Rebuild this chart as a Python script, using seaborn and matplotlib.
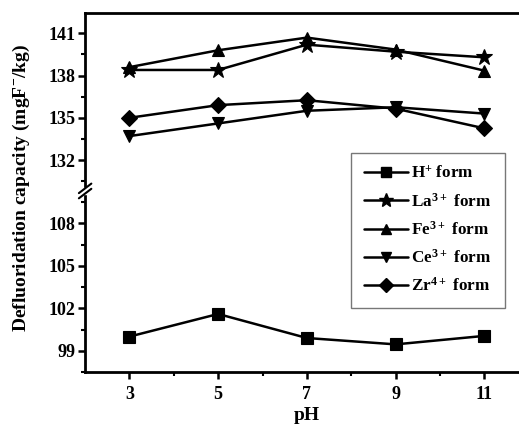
# Defluoridation capacity vs pH for the different resin forms (broken y axis)

import numpy as np
import pandas as pd
import seaborn as sns
import matplotlib.pyplot as plt
from matplotlib.lines import Line2D

ph = [3, 5, 7, 9, 11]
h_form = [100.0, 101.6, 99.9, 99.45, 100.05]
la_form = [138.4, 138.4, 140.2, 139.7, 139.3]
fe_form = [138.6, 139.8, 140.7, 139.85, 138.35]
ce_form = [133.7, 134.6, 135.5, 135.75, 135.3]
zr_form = [135.0, 135.9, 136.25, 135.65, 134.25]

series_names = ['H$^{+}$ form', 'La$^{3+}$ form', 'Fe$^{3+}$ form', 'Ce$^{3+}$ form', 'Zr$^{4+}$ form']
series_values = [h_form, la_form, fe_form, ce_form, zr_form]
series_markers = ['s', '*', '^', 'v', 'D']
marker_sizes = [8, 12, 9, 9, 8]

sns.set_style('ticks')
plt.rcParams['font.family'] = ['Liberation Serif', 'DejaVu Serif']
plt.rcParams['font.weight'] = 'bold'
plt.rcParams['mathtext.fontset'] = 'custom'
plt.rcParams['mathtext.rm'] = 'Liberation Serif:bold'
plt.rcParams['mathtext.bf'] = 'Liberation Serif:bold'
plt.rcParams['mathtext.default'] = 'bf'
plt.rcParams['axes.edgecolor'] = 'black'
plt.rcParams['xtick.color'] = 'black'
plt.rcParams['ytick.color'] = 'black'
plt.rcParams['text.color'] = 'black'

fig = plt.figure(figsize=(5.19, 4.33), dpi=100)
ax_top = fig.add_axes([0.1638, 0.559, 0.855, 0.411])
ax_bot = fig.add_axes([0.1638, 0.141, 0.855, 0.418])

frame = pd.DataFrame({'pH': ph})
for name, vals in zip(series_names, series_values):
    frame[name] = vals

handles = []
for name, vals, mk, ms in zip(series_names, series_values, series_markers, marker_sizes):
    ax = ax_bot if name.startswith('H') else ax_top
    sns.lineplot(data=frame, x='pH', y=name, ax=ax, color='black', linewidth=1.8,
                 marker=mk, markersize=ms, markeredgecolor='black', markeredgewidth=0.8)
    handles.append(Line2D([], [], color='black', linewidth=1.8, marker=mk,
                          markersize=ms * 0.85, markeredgecolor='black', label=name))

for ax in (ax_top, ax_bot):
    ax.set_xlim(2, 12)
    ax.set_xlabel('')
    ax.set_ylabel('')
    for side in ax.spines:
        ax.spines[side].set_linewidth(2)
    ax.tick_params(which='major', direction='out', length=5, width=1.8, labelsize=13, pad=2)
    ax.tick_params(which='minor', direction='out', length=3, width=1.5)

ax_top.set_ylim(129.8, 142.45)
ax_top.set_yticks([132, 135, 138, 141])
ax_top.set_yticks(np.arange(130.5, 142.5, 1.5), minor=True)
ax_top.spines['bottom'].set_visible(False)
ax_top.tick_params(axis='x', which='both', bottom=False, labelbottom=False)
ax_top.tick_params(axis='y', which='both', right=False)

ax_bot.set_ylim(97.5, 110.3)
ax_bot.set_yticks([99, 102, 105, 108])
ax_bot.set_yticks(np.arange(97.5, 110.5, 1.5), minor=True)
ax_bot.set_xticks(ph)
ax_bot.set_xticks([4, 6, 8, 10], minor=True)
ax_bot.spines['top'].set_visible(False)
ax_bot.tick_params(axis='x', pad=5)

for ax in (ax_top, ax_bot):
    for lab in ax.get_xticklabels() + ax.get_yticklabels():
        lab.set_fontweight('bold')

# break marks on the left axis
fig.patches.append(plt.Rectangle((0.1560, 0.553), 0.016, 0.013, transform=fig.transFigure,
                                 color='white', zorder=5))
for dy in (-0.006, 0.006):
    fig.lines.append(Line2D([0.1520, 0.1760], [0.548 + dy, 0.570 + dy], color='black',
                            linewidth=1.5, transform=fig.transFigure, zorder=6))

fig.legend(handles=handles, loc='upper left', bbox_to_anchor=(0.676, 0.647),
           bbox_transform=fig.transFigure, borderaxespad=0, fancybox=False,
           edgecolor='#777777', framealpha=1, handlelength=2.6, handletextpad=0.2,
           labelspacing=0.6, borderpad=0.75, prop={'size': 12.3, 'weight': 'bold'})

fig.text(0.042, 0.565, 'Defluoridation capacity (mgF$^{-}$/kg)', rotation=90,
         ha='center', va='center', fontsize=14, fontweight='bold')
fig.text(0.592, 0.040, 'pH', ha='center', va='center', fontsize=14, fontweight='bold')

plt.savefig('out.png', dpi=100)
